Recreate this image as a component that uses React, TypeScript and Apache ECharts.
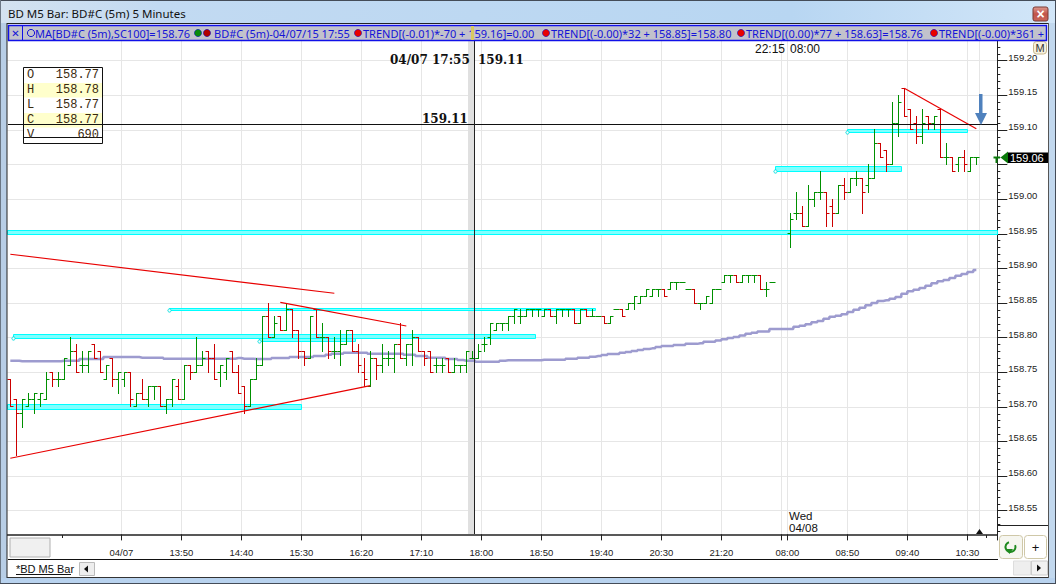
import React, { useEffect, useRef } from "react";
import * as echarts from "echarts";

const opens = [158.74,158.71,158.69,158.70,158.71,158.71,158.71,158.75,158.74,158.74,158.76,158.78,158.76,158.76,158.79,158.78,158.74,158.77,158.74,158.74,158.75,158.70,158.72,158.71,158.73,158.73,158.70,158.71,158.73,158.71,158.76,158.75,158.76,158.78,158.77,158.75,158.75,158.78,158.75,158.73,158.70,158.74,158.76,158.83,158.80,158.83,158.81,158.84,158.81,158.78,158.77,158.84,158.80,158.80,158.78,158.78,158.79,158.81,158.78,158.75,158.73,158.77,158.76,158.77,158.77,158.79,158.77,158.79,158.80,158.78,158.78,158.76,158.76,158.77,158.75,158.76,158.76,158.77,158.77,158.79,158.80,158.81,158.82,158.82,158.83,158.83,158.83,158.84,158.84,158.83,158.84,158.83,158.84,158.84,158.84,158.82,158.84,158.83,158.83,158.83,158.82,158.84,158.84,158.84,158.85,158.85,158.86,158.86,158.87,158.87,158.87,158.88,158.88,158.87,158.87,158.85,158.85,158.85,158.87,158.88,158.89,158.89,158.88,158.89,158.89,158.89,158.87,158.88,null,null,158.95,158.98,158.98,158.96,159.00,159.01,159.01,158.99,158.98,159.02,159.01,159.03,159.03,159.02,159.03,159.08,159.07,159.05,159.11,159.16,159.13,159.11,159.09,159.12,159.11,159.13,159.06,159.06,159.05,159.06,159.04,159.06];
const highs = [158.74,158.71,158.71,158.72,158.72,158.72,158.75,158.75,158.75,158.77,158.80,158.79,158.78,158.78,158.79,158.78,158.76,158.77,158.75,158.75,158.75,158.72,158.74,158.73,158.73,158.73,158.71,158.74,158.74,158.76,158.76,158.80,158.78,158.78,158.79,158.76,158.77,158.78,158.76,158.73,158.74,158.77,158.83,158.85,158.83,158.83,158.85,158.84,158.81,158.78,158.83,158.84,158.82,158.80,158.80,158.81,158.81,158.81,158.79,158.77,158.78,158.77,158.79,158.78,158.79,158.82,158.79,158.81,158.80,158.78,158.78,158.77,158.77,158.77,158.77,158.76,158.78,158.78,158.79,158.80,158.82,158.82,158.82,158.83,158.84,158.84,158.84,158.84,158.84,158.84,158.84,158.84,158.84,158.84,158.84,158.84,158.84,158.84,158.83,158.83,158.83,158.84,158.84,158.85,158.86,158.86,158.87,158.87,158.87,158.87,158.88,158.88,158.88,158.87,158.87,158.85,158.86,158.87,158.87,158.89,158.89,158.89,158.89,158.89,158.89,158.89,158.88,158.88,null,null,158.98,159.01,158.99,159.02,159.01,159.04,159.01,159.00,159.02,159.03,159.03,159.04,159.03,159.05,159.10,159.08,159.07,159.14,159.15,159.16,159.13,159.12,159.13,159.12,159.12,159.13,159.08,159.06,159.06,159.07,159.06,159.06];
const lows = [158.70,158.63,158.67,158.70,158.69,158.70,158.71,158.73,158.73,158.74,158.76,158.75,158.75,158.75,158.77,158.75,158.74,158.73,158.72,158.73,158.70,158.70,158.71,158.70,158.71,158.70,158.69,158.70,158.71,158.71,158.74,158.75,158.76,158.75,158.74,158.73,158.74,158.75,158.72,158.69,158.70,158.74,158.76,158.80,158.80,158.81,158.81,158.80,158.77,158.76,158.77,158.80,158.78,158.77,158.77,158.76,158.79,158.78,158.75,158.73,158.73,158.74,158.75,158.76,158.75,158.77,158.76,158.76,158.78,158.76,158.75,158.75,158.75,158.75,158.75,158.75,158.75,158.77,158.77,158.78,158.79,158.81,158.81,158.81,158.82,158.82,158.83,158.83,158.83,158.83,158.83,158.82,158.83,158.83,158.82,158.82,158.83,158.83,158.83,158.82,158.82,158.84,158.83,158.84,158.84,158.85,158.86,158.86,158.86,158.86,158.87,158.87,158.88,158.87,158.85,158.84,158.85,158.85,158.87,158.88,158.88,158.88,158.88,158.88,158.88,158.87,158.86,158.88,null,null,158.93,158.97,158.96,158.96,158.99,159.00,158.96,158.96,158.98,159.00,159.01,159.02,158.98,159.01,159.03,159.06,159.04,159.05,159.09,159.12,159.10,159.08,159.08,159.10,159.10,159.06,159.05,159.04,159.04,159.04,159.04,159.05];
const closes = [158.70,158.69,158.71,158.71,158.72,158.72,158.74,158.74,158.74,158.77,158.78,158.75,158.76,158.78,158.77,158.75,158.76,158.74,158.75,158.75,158.71,158.72,158.71,158.73,158.73,158.70,158.71,158.74,158.71,158.76,158.75,158.76,158.77,158.77,158.74,158.76,158.77,158.75,158.72,158.70,158.74,158.76,158.83,158.80,158.82,158.81,158.84,158.81,158.78,158.77,158.83,158.80,158.80,158.78,158.78,158.79,158.81,158.78,158.76,158.74,158.77,158.76,158.77,158.77,158.79,158.77,158.79,158.80,158.78,158.77,158.75,158.76,158.76,158.75,158.76,158.76,158.78,158.77,158.78,158.79,158.82,158.82,158.82,158.83,158.84,158.83,158.84,158.84,158.84,158.84,158.83,158.84,158.84,158.84,158.82,158.84,158.83,158.83,158.83,158.82,158.83,158.84,158.83,158.85,158.86,158.86,158.87,158.87,158.87,158.86,158.88,158.88,158.88,158.87,158.85,158.85,158.86,158.87,158.87,158.89,158.89,158.88,158.89,158.89,158.89,158.87,158.87,158.88,null,null,158.97,158.98,158.96,159.00,159.01,159.01,158.98,158.98,159.02,159.01,159.03,159.03,159.01,159.03,159.08,159.06,159.05,159.11,159.14,159.12,159.10,159.09,159.11,159.11,159.12,159.06,159.06,159.04,159.06,159.05,159.06,159.06];
const movingAverage = [158.7667,158.7667,158.7658,158.7658,158.7658,158.7658,158.7658,158.7658,158.7658,158.7667,158.7667,158.7667,158.7691,158.7691,158.7691,158.7691,158.772,158.772,158.772,158.772,158.772,158.772,158.771,158.771,158.771,158.771,158.7696,158.7696,158.7696,158.7696,158.7696,158.7696,158.7696,158.7696,158.7696,158.7696,158.7696,158.7696,158.7706,158.7696,158.7696,158.7691,158.7691,158.7691,158.7706,158.7706,158.7706,158.772,158.772,158.772,158.772,158.7735,158.7735,158.7753,158.7768,158.7768,158.778,158.778,158.778,158.778,158.7768,158.7768,158.7768,158.7768,158.7768,158.7768,158.7753,158.7753,158.7735,158.7735,158.771,158.771,158.771,158.7691,158.7691,158.7677,158.7667,158.7667,158.7652,158.7652,158.7652,158.7652,158.7667,158.7672,158.7672,158.7672,158.7672,158.7672,158.7672,158.768,158.768,158.768,158.768,158.7696,158.7696,158.771,158.771,158.7725,158.7735,158.775,158.7764,158.7764,158.778,158.7793,158.7807,158.782,158.7835,158.7845,158.7865,158.788,158.788,158.7893,158.7893,158.791,158.791,158.792,158.794,158.794,158.796,158.7975,158.7995,158.801,158.803,158.8055,158.807,158.809,158.809,158.8125,158.8125,158.8125,158.8125,158.8158,158.8172,158.8193,158.8221,158.824,158.8274,158.8302,158.8317,158.8337,158.837,158.8404,158.8432,158.8467,158.85,158.8529,158.8539,158.8562,158.8587,158.8635,158.8669,158.8692,158.8717,158.875,158.8785,158.8814,158.8833,158.8861,158.8895,158.8919,158.8948,158.8977];

const zoneStart = [42, 0, 1, 27, 0, 128, 140];
const zoneEnd = [58, 49, 88, 98, 165, 149, 160];
const zoneTop = [158.8052, 158.7027, 158.8052, 158.8424, 158.955, 159.0475, 159.1009];
const zoneBottom = [158.7941, 158.6965, 158.799, 158.8385, 158.9487, 159.0397, 159.096];
const zoneMarker = [1, 0, 1, 1, 0, 1, 1];

const trendStart = [0, 0, 45, 149];
const trendEnd = [54, 60, 66, 161];
const trendFrom = [158.9204, 158.6257, 158.851, 159.1601];
const trendTo = [158.8641, 158.7307, 158.8168, 159.1018];

const xTickIndex = [19, 29, 39, 49, 59, 69, 79, 89, 99, 109, 119, 130, 140, 150, 160];
const xTickLabels = ["04/07", "13:50", "14:40", "15:30", "16:20", "17:10", "18:00", "18:50", "19:40", "20:30", "21:20", "08:00", "08:50", "09:40", "10:30"];
const extraGridIndex = [129];
const bandCount = 165;
const cursorIndex = 77;
const cursorPrice = 159.108;
const lastPrice = "159.06";

const categories = Array.from({ length: bandCount }, (_, i) => {
  const p = xTickIndex.indexOf(i);
  return p >= 0 ? xTickLabels[p] : "b" + i;
});
const gridBands = [...xTickIndex, ...extraGridIndex];

const UI = "Liberation Sans";
const rect = (x: number, y: number, w: number, h: number, fill: any, z = 10, extra: any = {}) => ({
  type: "rect", z, silent: true, shape: { x, y, width: w, height: h, r: extra.r || 0 }, style: { fill, stroke: extra.stroke, lineWidth: extra.lw },
});
const line = (x1: number, y1: number, x2: number, y2: number, stroke: string, z = 10, lineWidth = 1) => ({
  type: "line", z, silent: true, shape: { x1, y1, x2, y2 }, style: { stroke, lineWidth },
});
const text = (x: number, y: number, t: string, fill: string, font: string, z = 10, extra: any = {}) => ({
  type: "text", z, silent: true, x, y, style: { text: t, fill, font, textVerticalAlign: "middle", textAlign: extra.align || "left" },
});
const poly = (points: number[][], fill: string, z = 10) => ({ type: "polygon", z, silent: true, shape: { points }, style: { fill } });
const dot = (cx: number, cy: number, fill: string, z = 11) => ({ type: "circle", z, silent: true, shape: { cx, cy, r: 3.6 }, style: { fill, stroke: "#0000cc", lineWidth: 0.5 } });

const titleFill = new echarts.graphic.LinearGradient(0, 0, 1, 0, [
  { offset: 0, color: "#d4e2f0" }, { offset: 0.15, color: "#c2daf2" }, { offset: 0.75, color: "#b8d6f2" }, { offset: 1, color: "#d2e6f8" },
]);
const closeFill = new echarts.graphic.LinearGradient(0, 0, 0, 1, [
  { offset: 0, color: "#dd9a90" }, { offset: 0.5, color: "#c2544a" }, { offset: 1, color: "#c8665a" },
]);
const stripFont = `11px "Noto Sans"`;
const stripBlue = "#1414d8";
const mono = `12px "Liberation Mono"`;
const boldSerif = `bold 12px "DejaVu Serif"`;

const chrome: any[] = [
  // background grid marker for the cursor column
  line(979.5, 41, 979.5, 534, "#e6e6e6", 0, 1),
  // bottom panel under the time axis
  rect(8, 535, 1040, 25, "#ffffff", 3),
  rect(10, 538, 40, 19, "#f0f0f0", 3, { stroke: "#b0b0b0", lw: 1 }),
  line(998, 525.5, 1048, 525.5, "#222222", 3, 1),
  line(62.5, 535, 62.5, 538, "#222222", 5, 1),
  line(986.5, 535, 986.5, 538, "#222222", 5, 1),
  line(8, 559.5, 998, 559.5, "#111111", 5, 1),
  poly([[979.5, 529], [976, 534], [983, 534]], "#111111", 5),
  // refresh and plus buttons
  rect(999.5, 535.5, 23, 23, "#f6f6f0", 5, { stroke: "#cfc8a8", lw: 1, r: 3 }),
  rect(1024.5, 535.5, 22, 23, "#ffffff", 5, { stroke: "#cfc8a8", lw: 1, r: 3 }),
  { type: "arc", z: 6, silent: true, shape: { cx: 1010.5, cy: 547, r: 5, startAngle: -0.4, endAngle: 4.4 }, style: { stroke: "#1f8a1f", lineWidth: 2, fill: "none" } },
  poly([[1006, 549], [1013, 549], [1009.5, 554]], "#1f8a1f", 6),
  text(1035.5, 547, "+", "#111111", `13px ${UI}`, 6, { align: "center" }),
  // OHLC box
  rect(23.5, 67.5, 79, 76, "#ffffff", 5, { stroke: "#111111", lw: 1 }),
  rect(24, 83, 78, 14.5, "#ffffcc", 5),
  rect(24, 113, 78, 14.5, "#ffffcc", 5),
  line(23.5, 137.5, 102.5, 137.5, "#111111", 5, 1),
  text(27, 75, "O", "#3a2a10", mono, 5),
  text(27, 90, "H", "#3a2a10", mono, 5),
  text(27, 105, "L", "#3a2a10", mono, 5),
  text(27, 120, "C", "#3a2a10", mono, 5),
  text(27, 135, "V", "#3a2a10", mono, 5),
  text(99, 75, "158.77", "#3a2a10", mono, 5, { align: "right" }),
  text(99, 90, "158.78", "#3a2a10", mono, 5, { align: "right" }),
  text(99, 105, "158.77", "#3a2a10", mono, 5, { align: "right" }),
  text(99, 120, "158.77", "#3a2a10", mono, 5, { align: "right" }),
  text(99, 135, "690", "#3a2a10", mono, 5, { align: "right" }),
  // plot annotations
  text(390, 60, "04/07 17:55", "#111111", boldSerif, 7),
  text(478, 60, "159.11", "#111111", boldSerif, 7),
  text(422, 119, "159.11", "#111111", boldSerif, 7),
  text(755, 49, "22:15", "#111111", `12px ${UI}`, 7),
  text(790, 49, "08:00", "#111111", `12px ${UI}`, 7),
  text(789, 516, "Wed", "#111111", `11.5px ${UI}`, 7),
  text(789, 528, "04/08", "#111111", `11.5px ${UI}`, 7),
  // blue arrow
  poly([[979, 94], [982.5, 94], [982.5, 113], [987, 113], [981, 125], [975, 113], [979, 113]], "#4f81bd", 7),
  // last price marker
  line(993.5, 157.5, 1000, 157.5, "#0a7a0a", 8, 2),
  line(996.5, 157, 996.5, 163, "#0a7a0a", 8, 2),
  poly([[1000.5, 157.5], [1008, 151.5], [1008, 163.5]], "#0a7a0a", 8),
  rect(1008, 152.5, 40, 10.5, "#000000", 8),
  text(1010, 158, lastPrice, "#ffffff", `11px ${UI}`, 8),
  // M button
  rect(1033.5, 41.5, 13, 12.5, "#f6f0de", 9, { stroke: "#c9b88c", lw: 1, r: 3 }),
  text(1040, 47.5, "M", "#333333", `11px ${UI}`, 9, { align: "center" }),
  // window frame
  rect(0, 0, 1056, 23, titleFill, 10),
  line(0, 0.5, 1056, 0.5, "#444c58", 11, 1),
  rect(0, 23, 7, 561, "#b8cee6", 10),
  rect(1048, 23, 8, 561, "#c2d8ee", 10),
  line(0.5, 0, 0.5, 584, "#6b7785", 11, 1),
  line(1055.5, 0, 1055.5, 584, "#444c58", 11, 1),
  line(7, 23, 7, 578, "#222222", 11, 1),
  line(1048.5, 23, 1048.5, 578, "#555555", 11, 1),
  line(7, 23.5, 1048, 23.5, "#222222", 11, 1),
  text(8, 13, "BD M5 Bar: BD#C (5m) 5 Minutes", "#111111", `11.5px "Noto Sans"`, 12),
  rect(1033, 7, 15, 14, closeFill, 12, { stroke: "#7a3a34", lw: 1, r: 2 }),
  text(1040.5, 14, "×", "#ffffff", `bold 14px ${UI}`, 13, { align: "center" }),
  // indicator strip
  rect(8, 24, 1040, 2, "#ffffff", 10),
  rect(8.5, 25.5, 1038, 15, "#c2c2cc", 10, { stroke: "#1010e8", lw: 1.5 }),
  line(22.5, 26, 22.5, 40, "#1010e8", 11, 1),
  text(15.5, 33, "✕", stripBlue, `10px "DejaVu Sans"`, 11, { align: "center" }),
  { type: "circle", z: 11, silent: true, shape: { cx: 31, cy: 33, r: 3.6 }, style: { fill: "none", stroke: stripBlue, lineWidth: 1 } },
  text(35, 33, "MA[BD#C (5m),SC100]=158.76", stripBlue, stripFont, 11),
  dot(198, 33, "#0a8a0a"),
  dot(207, 33, "#b00000"),
  text(214, 33, "BD#C (5m)-04/07/15 17:55", stripBlue, stripFont, 11),
  dot(358, 33, "#e80000"),
  text(363, 33, "TREND[(-0.01)*-70 + 159.16]=0.00", stripBlue, stripFont, 11),
  dot(546, 33, "#e80000"),
  text(551, 33, "TREND[(-0.00)*32 + 158.85]=158.80", stripBlue, stripFont, 11),
  dot(741, 33, "#e80000"),
  text(746, 33, "TREND[(0.00)*77 + 158.63]=158.76", stripBlue, stripFont, 11),
  dot(934, 33, "#e80000"),
  text(939, 33, "TREND[(-0.00)*361 +", stripBlue, stripFont, 11),
  rect(471, 26, 3, 14, "#d8c860", 12),
  // tab bar
  rect(8, 560, 1040, 17, "#ffffff", 10),
  text(16, 568.5, "*BD M5 Bar", "#111111", `11px ${UI}`, 11),
  line(16, 574.5, 71, 574.5, "#111111", 11, 1),
  rect(79.5, 562.5, 15, 13, "#eeeeee", 11, { stroke: "#bbbbbb", lw: 1 }),
  poly([[84, 569], [88, 565.5], [88, 572.5]], "#111111", 12),
  rect(1013.5, 561, 17, 14, "#eeeeee", 11, { stroke: "#dddddd", lw: 1 }),
  rect(1031.5, 561, 16, 14, "#f2f2f2", 11, { stroke: "#cccccc", lw: 1 }),
  poly([[1041, 568], [1037, 564.5], [1037, 571.5]], "#111111", 12),
  line(7, 577.5, 1048, 577.5, "#333333", 11, 1),
  rect(0, 578, 1056, 5, "#b8d2ee", 10),
  line(0, 583.5, 1056, 583.5, "#444c58", 11, 1),
];

const snap = (v: number) => Math.floor(v) + 0.5;

const isTick = (i: number) => gridBands.includes(i);
const isLabel = (i: number) => xTickIndex.includes(i);

const option: any = {
  animation: false,
  backgroundColor: "#ffffff",
  tooltip: { show: false },
  grid: { left: 7.33, width: 990, top: 26.1, height: 519.2, show: false },
  graphic: { elements: chrome },
  xAxis: [
    {
      type: "category", data: categories, boundaryGap: true, z: 4, offset: -10.9,
      axisLine: { show: true, onZero: false, lineStyle: { color: "#222222", width: 1.5 } },
      axisTick: { show: true, length: 6, interval: (i: number) => isTick(i), lineStyle: { color: "#222222", width: 1 } },
      axisLabel: {
        interval: (i: number) => isLabel(i), color: "#222222", fontFamily: UI, fontSize: 9.5, margin: 13,
        padding: [0, 6, 0, 0], hideOverlap: false,
      },
      splitLine: { show: false },
    },
    {
      type: "category", data: categories, boundaryGap: true, z: 0,
      axisLine: { show: false }, axisTick: { show: false }, axisLabel: { show: false },
      splitLine: { show: true, interval: (i: number) => isTick(i), lineStyle: { color: "#e6e6e6", width: 1 } },
    },
  ],
  yAxis: {
    type: "value", position: "right", min: 158.5, max: 159.25, interval: 0.05, z: 1, scale: true,
    axisLine: { show: true, onZero: false, lineStyle: { color: "#222222", width: 1 } },
    axisTick: { show: true, length: 10, lineStyle: { color: "#222222", width: 1 } },
    minorTick: { show: true, splitNumber: 5, length: 3, lineStyle: { color: "#222222", width: 1 } },
    axisLabel: {
      color: "#222222", fontFamily: UI, fontSize: 9.5, margin: 11, verticalAlign: "bottom", lineHeight: 7,
      formatter: (v: number) => (v < 158.52 || v > 159.22 || Math.abs(v - 159.05) < 0.001 ? "" : v.toFixed(2)),
    },
    splitLine: { show: true, lineStyle: { color: "#e6e6e6", width: 1 } },
  },
  series: [
    {
      type: "custom", name: "cursor band", z: 1, silent: true, clip: true,
      data: [[cursorIndex, cursorPrice]], encode: { x: 0, y: 1 },
      renderItem: (_p: any, api: any) => {
        const c = api.coord([cursorIndex, cursorPrice]);
        return { type: "rect", shape: { x: Math.floor(c[0]) - 4, y: 41, width: 6.5, height: 493 }, style: { fill: "#e0e0e0" } };
      },
    },
    {
      type: "custom", name: "zones", z: 2, silent: true, clip: true,
      data: zoneStart.map((k, i) => [k, zoneTop[i]]), encode: { x: 0, y: 1 },
      renderItem: (p: any, api: any) => {
        const i = p.dataIndex;
        const half = api.size([1, 0])[0] / 2;
        const edge = (k: number) => (k < bandCount ? api.coord([k, zoneTop[i]])[0] - half : api.coord([bandCount - 1, zoneTop[i]])[0] + half);
        const x1 = snap(edge(zoneStart[i]));
        const x2 = snap(edge(zoneEnd[i]));
        const y1 = snap(api.coord([zoneStart[i], zoneTop[i]])[1]);
        const y2 = snap(api.coord([zoneStart[i], zoneBottom[i]])[1]);
        const kids: any[] = [
          { type: "rect", shape: { x: x1, y: y1, width: x2 - x1, height: y2 - y1 }, style: { fill: "#7fffff", stroke: "#00ffff", lineWidth: 1 } },
        ];
        if (zoneMarker[i]) kids.push({ type: "circle", shape: { cx: x1, cy: y2, r: 1.6 }, style: { fill: "#ffffff", stroke: "#00e0e0", lineWidth: 1 } });
        return { type: "group", children: kids };
      },
    },
    {
      type: "line", name: "MA", z: 3, silent: true, step: "middle", symbol: "none", data: movingAverage,
      lineStyle: { color: "#9d9bcf", width: 2.5 }, connectNulls: true,
    },
    {
      type: "custom", name: "bars", z: 4, silent: true, clip: true,
      data: opens.map((o, i) => [i, o, highs[i], lows[i], closes[i]]).filter((d) => d[1] != null),
      encode: { x: 0, y: [1, 2, 3, 4] },
      renderItem: (_p: any, api: any) => {
        const k = api.value(0);
        const o = api.value(1), h = api.value(2), l = api.value(3), c = api.value(4);
        const x = snap(api.coord([k, h])[0]);
        const yh = snap(api.coord([k, h])[1]);
        const yl = snap(api.coord([k, l])[1]);
        const yo = snap(api.coord([k, o])[1]);
        const yc = snap(api.coord([k, c])[1]);
        const stroke = c < o ? "#cc0000" : "#009000";
        const s = { stroke, lineWidth: 1 };
        return {
          type: "group",
          children: [
            { type: "line", shape: { x1: x, y1: yh - 0.5, x2: x, y2: yl + 0.5 }, style: s },
            { type: "line", shape: { x1: x - 3, y1: yo, x2: x, y2: yo }, style: s },
            { type: "line", shape: { x1: x, y1: yc, x2: x + 3, y2: yc }, style: s },
          ],
        };
      },
    },
    {
      type: "custom", name: "trend lines", z: 5, silent: true, clip: true,
      data: trendStart.map((k, i) => [k, trendFrom[i]]), encode: { x: 0, y: 1 },
      renderItem: (p: any, api: any) => {
        const i = p.dataIndex;
        const a = api.coord([trendStart[i], trendFrom[i]]);
        const b = api.coord([trendEnd[i], trendTo[i]]);
        return { type: "line", shape: { x1: a[0], y1: a[1], x2: b[0], y2: b[1] }, style: { stroke: "#e80000", lineWidth: 1.2 } };
      },
    },
    {
      type: "custom", name: "cursor", z: 6, silent: true, clip: true,
      data: [[cursorIndex, cursorPrice]], encode: { x: 0, y: 1 },
      renderItem: (_p: any, api: any) => {
        const c = api.coord([cursorIndex, cursorPrice]);
        const y = snap(c[1]);
        const x = Math.floor(c[0]) + 2.5;
        return {
          type: "group",
          children: [
            { type: "line", shape: { x1: 8, y1: y, x2: 998, y2: y }, style: { stroke: "#111111", lineWidth: 1 } },
            { type: "line", shape: { x1: x, y1: 41, x2: x, y2: 534 }, style: { stroke: "#222222", lineWidth: 1 } },
          ],
        };
      },
    },
  ],
};

export default function App() {
  const ref = useRef<HTMLDivElement>(null);
  useEffect(() => {
    document.body.style.margin = "0";
    const chart = echarts.init(ref.current!, undefined, { renderer: "svg" });
    chart.setOption(option);
    return () => chart.dispose();
  }, []);
  return <div ref={ref} style={{ width: 1056, height: 584 }} />;
}
